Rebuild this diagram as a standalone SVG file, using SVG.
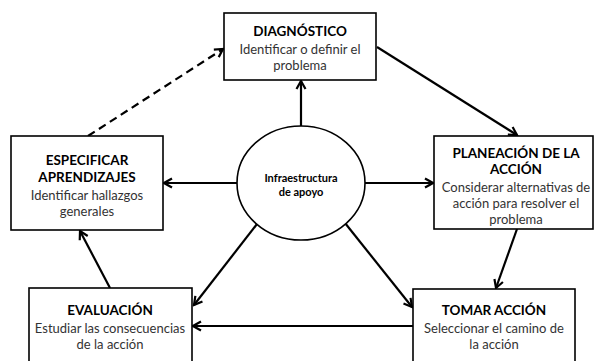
<svg xmlns="http://www.w3.org/2000/svg" width="595" height="361" viewBox="0 0 595 361">
<defs>
<style>
.box{fill:#fff;stroke:#000;stroke-width:1.6}
.t{font-family:Lato,"Open Sans",sans-serif;font-weight:bold;font-size:13.5px;fill:#000;text-anchor:middle}
.s{font-family:Lato,"Open Sans",sans-serif;font-size:13px;fill:#333;text-anchor:middle}
.c{font-family:Lato,"Open Sans",sans-serif;font-weight:bold;font-size:11px;fill:#000;text-anchor:middle}
.ln{stroke:#000;stroke-width:2.2;fill:none}
.dash{stroke-dasharray:8 5}
</style>
<marker id="ah" markerUnits="userSpaceOnUse" markerWidth="12" markerHeight="12" viewBox="0 0 12 12" refX="10" refY="6" orient="auto">
<path d="M2,1.5 L10,6 L2,10.5" fill="none" stroke="#000" stroke-width="2.2"/>
</marker>
</defs>
<rect width="595" height="361" fill="#fff"/>
<g id="connectors">
<line class="ln" x1="301" y1="126" x2="301" y2="81" marker-end="url(#ah)"/>
<line class="ln" x1="237" y1="183" x2="164" y2="183" marker-end="url(#ah)"/>
<line class="ln" x1="365" y1="183" x2="433" y2="183" marker-end="url(#ah)"/>
<line class="ln" x1="257" y1="224" x2="194" y2="305" marker-end="url(#ah)"/>
<line class="ln" x1="345" y1="223" x2="412" y2="307" marker-end="url(#ah)"/>
<line class="ln" x1="377" y1="47" x2="517" y2="135" marker-end="url(#ah)"/>
<line class="ln" x1="517" y1="229" x2="496" y2="288" marker-end="url(#ah)"/>
<line class="ln" x1="413" y1="326" x2="193" y2="326" marker-end="url(#ah)"/>
<line class="ln" x1="110" y1="288" x2="80" y2="231" marker-end="url(#ah)"/>
<line class="ln dash" x1="88" y1="136" x2="223" y2="49" marker-end="url(#ah)"/>
</g>
<g id="diagnostico">
<rect class="box" x="224" y="13" width="152" height="67"/>
<text class="t" x="300" y="36">DIAGNÓSTICO</text>
<text class="s" x="300" y="54">Identificar o definir el</text>
<text class="s" x="300" y="70">problema</text>
</g>
<g id="especificar">
<rect class="box" x="11" y="136" width="152" height="94"/>
<text class="t" x="87" y="165">ESPECIFICAR</text>
<text class="t" x="87" y="182">APRENDIZAJES</text>
<text class="s" x="87" y="200">Identificar hallazgos</text>
<text class="s" x="87" y="216">generales</text>
</g>
<g id="planeacion">
<rect class="box" x="434" y="136" width="159" height="93"/>
<text class="t" x="516" y="158">PLANEACIÓN DE LA</text>
<text class="t" x="516" y="174">ACCIÓN</text>
<text class="s" x="516" y="192">Considerar alternativas de</text>
<text class="s" x="516" y="208">acción para resolver el</text>
<text class="s" x="516" y="224">problema</text>
</g>
<g id="evaluacion">
<rect class="box" x="29" y="288" width="163" height="80"/>
<text class="t" x="110" y="315">EVALUACIÓN</text>
<text class="s" x="110" y="333">Estudiar las consecuencias</text>
<text class="s" x="110" y="349">de la acción</text>
</g>
<g id="tomar">
<rect class="box" x="413" y="289" width="162" height="80"/>
<text class="t" x="494" y="315">TOMAR ACCIÓN</text>
<text class="s" x="494" y="333">Seleccionar el camino de</text>
<text class="s" x="494" y="349">la acción</text>
</g>
<g id="infraestructura">
<ellipse cx="301" cy="183" rx="64" ry="57" fill="#fff" stroke="#000" stroke-width="1.6"/>
<text class="c" x="301" y="182">Infraestructura</text>
<text class="c" x="301" y="196">de apoyo</text>
</g>
</svg>
